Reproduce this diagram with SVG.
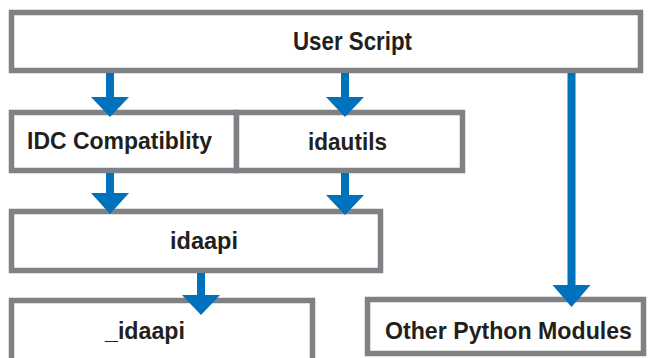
<svg xmlns="http://www.w3.org/2000/svg" width="648" height="358" viewBox="0 0 648 358">
  <style>
    .box { fill: #ffffff; stroke: #808184; stroke-width: 5.5; }
    .label { font-family: "Liberation Sans", "DejaVu Sans", sans-serif; font-weight: bold; fill: #231f20; }
    .shaft { stroke: #0071bc; stroke-width: 8; fill: none; }
    .head { fill: #0071bc; }
  </style>
  <rect x="0" y="0" width="648" height="358" fill="#ffffff"/>

  <g id="user-script">
    <rect class="box" x="11.5" y="12.5" width="629" height="58"/>
    <text class="label" x="293" y="50" font-size="25" textLength="119" lengthAdjust="spacingAndGlyphs">User Script</text>
  </g>

  <g id="idc-compat">
    <rect class="box" x="11.5" y="112.5" width="225" height="58"/>
    <text class="label" x="27" y="149" font-size="24" textLength="185" lengthAdjust="spacingAndGlyphs">IDC Compatiblity</text>
  </g>

  <g id="idautils">
    <rect class="box" x="236.5" y="112.5" width="226" height="58"/>
    <text class="label" x="308" y="150" font-size="24" textLength="79" lengthAdjust="spacingAndGlyphs">idautils</text>
  </g>

  <g id="idaapi">
    <rect class="box" x="11.5" y="211.5" width="369" height="59"/>
    <text class="label" x="170" y="249" font-size="24" textLength="68" lengthAdjust="spacingAndGlyphs">idaapi</text>
  </g>

  <g id="_idaapi">
    <rect class="box" x="11.5" y="300.5" width="301" height="70"/>
    <text class="label" x="105" y="339" font-size="24" textLength="80" lengthAdjust="spacingAndGlyphs">_idaapi</text>
  </g>

  <g id="other-modules">
    <rect class="box" x="367.5" y="299.5" width="276" height="54"/>
    <text class="label" x="385" y="339" font-size="24" textLength="247" lengthAdjust="spacingAndGlyphs">Other Python Modules</text>
  </g>

  <g id="connectors">
    <!-- User Script -> IDC Compatiblity -->
    <line class="shaft" x1="110" y1="73" x2="110" y2="98"/>
    <polygon class="head" points="91,97 129,97 110,117"/>
    <!-- User Script -> idautils -->
    <line class="shaft" x1="345" y1="73" x2="345" y2="98"/>
    <polygon class="head" points="326,97 364,97 345,117"/>
    <!-- IDC Compatiblity -> idaapi -->
    <line class="shaft" x1="110" y1="173" x2="110" y2="194"/>
    <polygon class="head" points="91,193 129,193 110,214"/>
    <!-- idautils -> idaapi -->
    <line class="shaft" x1="345" y1="173" x2="345" y2="196"/>
    <polygon class="head" points="326,195 364,195 345,215"/>
    <!-- idaapi -> _idaapi -->
    <line class="shaft" x1="201" y1="273" x2="201" y2="296"/>
    <polygon class="head" points="182,295 220,295 201,315"/>
    <!-- User Script -> Other Python Modules -->
    <line class="shaft" x1="571.5" y1="73" x2="571.5" y2="286"/>
    <polygon class="head" points="552.5,285 590.5,285 571.5,307"/>
  </g>
</svg>
